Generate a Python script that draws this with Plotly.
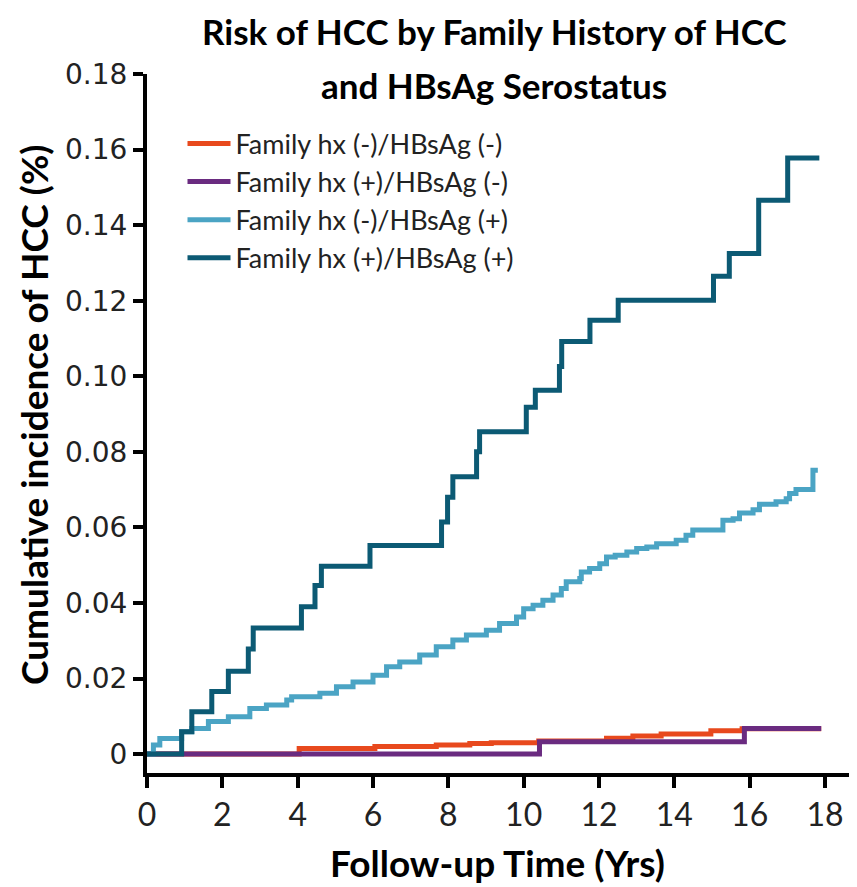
import plotly.graph_objects as go

# ---- data ----
series_names = [
    "Family hx (-)/HBsAg (-)",
    "Family hx (+)/HBsAg (-)",
    "Family hx (-)/HBsAg (+)",
    "Family hx (+)/HBsAg (+)",
]
series_colors = ["#E8491D", "#6A2B80", "#4BA4C4", "#0C5A74"]

neg_neg_t = [0, 4.04, 6.05, 7.68, 8.57, 9.14, 10.4, 12.2, 12.9, 13.65, 14.97, 15.8, 17.9]
neg_neg_y = [0, 0.0015, 0.0020, 0.0024, 0.0028, 0.0030, 0.0035, 0.0042, 0.0048, 0.0053, 0.0062, 0.0067, 0.0067]

pos_neg_t = [0, 10.42, 15.86, 17.9]
pos_neg_y = [0, 0.0033, 0.0068, 0.0068]

neg_pos_t = [0, 0.17, 0.34, 0.92, 1.19, 1.63, 2.16, 2.73, 3.17, 3.71, 3.84, 4.59, 5.03, 5.47,
             6.0, 6.36, 6.71, 7.24, 7.68, 8.12, 8.48, 9.01, 9.36, 9.81, 10.0, 10.25, 10.51,
             10.78, 11.0, 11.13, 11.49, 11.53, 11.75, 12.02, 12.2, 12.43, 12.74, 13.0, 13.27,
             13.53, 14.05, 14.31, 14.49, 15.29, 15.56, 15.73, 16.09, 16.26, 16.70, 16.97,
             17.06, 17.23, 17.68, 17.81]
neg_pos_y = [0, 0.0024, 0.0041, 0.0059, 0.0068, 0.0086, 0.0099, 0.0121, 0.0130, 0.0143, 0.0152,
             0.0161, 0.0178, 0.0191, 0.0209, 0.0231, 0.0244, 0.0262, 0.0284, 0.0302, 0.0315,
             0.0328, 0.0346, 0.0363, 0.0385, 0.0394, 0.0407, 0.0421, 0.0438, 0.0456, 0.0465,
             0.0482, 0.0491, 0.0504, 0.0522, 0.0526, 0.0535, 0.0544, 0.0548, 0.0557, 0.0566,
             0.0579, 0.0593, 0.0619, 0.0623, 0.0638, 0.0647, 0.0661, 0.0668, 0.0676, 0.0690,
             0.0700, 0.0751, 0.0751]

pos_pos_t = [0, 0.92, 1.19, 1.72, 2.16, 2.69, 2.82, 4.10, 4.46, 4.63, 5.92, 7.82, 7.98, 8.12,
             8.75, 8.83, 10.07, 10.31, 10.95, 11.01, 11.76, 12.51, 15.04, 15.46, 16.24, 17.01, 17.85]
pos_pos_y = [0, 0.0059, 0.0112, 0.0166, 0.0219, 0.0278, 0.0334, 0.0390, 0.0446, 0.0497, 0.0552,
             0.0614, 0.0680, 0.0734, 0.0800, 0.0853, 0.0918, 0.0963, 0.1026, 0.1092, 0.1148,
             0.1201, 0.1265, 0.1325, 0.1466, 0.1578, 0.1578]

x_ticks = [0, 2, 4, 6, 8, 10, 12, 14, 16, 18]
y_ticks = [0, 0.02, 0.04, 0.06, 0.08, 0.10, 0.12, 0.14, 0.16, 0.18]
y_tick_text = ["0", "0.02", "0.04", "0.06", "0.08", "0.10", "0.12", "0.14", "0.16", "0.18"]

title_line1 = "Risk of HCC by Family History of HCC"
title_line2 = "and HBsAg Serostatus"
x_title = "Follow-up Time (Yrs)"
y_title = "Cumulative incidence of HCC (%)"

FONT = "Lato"

# ---- figure ----
fig = go.Figure()
all_t = [neg_neg_t, pos_neg_t, neg_pos_t, pos_pos_t]
all_y = [neg_neg_y, pos_neg_y, neg_pos_y, pos_pos_y]
for name, col, t, y in zip(series_names, series_colors, all_t, all_y):
    fig.add_trace(go.Scatter(
        x=t, y=y, name=name, mode="lines",
        line=dict(color=col, width=5, shape="hv"),
    ))

# page has an 8px body margin, so figure is 8px smaller and margins shifted
fig.update_layout(
    width=849, height=879,
    margin=dict(l=139, r=0, t=66, b=114),
    paper_bgcolor="white", plot_bgcolor="white",
    showlegend=True,
    legend=dict(
        x=0.05, y=0.935, xanchor="left", yanchor="top",
        font=dict(family=FONT, size=27, color="#222"),
        bgcolor="rgba(0,0,0,0)", itemwidth=43,
        traceorder="normal",
    ),
    xaxis=dict(
        range=[0, 18.85], tickvals=x_ticks, showgrid=False, zeroline=False,
        showline=True, linecolor="black", linewidth=4,
        ticks="outside", ticklen=11, tickwidth=4, tickcolor="black",
        tickfont=dict(family=FONT, size=32, color="#222"),
    ),
    yaxis=dict(
        range=[-0.005, 0.18], tickvals=y_ticks, ticktext=y_tick_text,
        showgrid=False, zeroline=False,
        showline=True, linecolor="black", linewidth=4,
        ticks="outside", ticklen=10, tickwidth=4, tickcolor="black",
        tickfont=dict(family="DejaVu Sans", size=28, color="#222"),
    ),
    annotations=[
        dict(text=f"<b>{title_line1}</b>", xref="paper", yref="paper",
             x=(494 - 147) / 710, y=1 + (74 - 31) / 699, xanchor="center", yanchor="middle",
             showarrow=False, font=dict(family=FONT, size=35, color="black")),
        dict(text=f"<b>{title_line2}</b>", xref="paper", yref="paper",
             x=(494 - 147) / 710, y=1 - (85 - 74) / 699, xanchor="center", yanchor="middle",
             showarrow=False, font=dict(family=FONT, size=35, color="black")),
        dict(text=f"<b>{x_title}</b>", xref="paper", yref="paper",
             x=(497 - 147) / 710, y=(773 - 862) / 699, xanchor="center", yanchor="middle",
             showarrow=False, font=dict(family=FONT, size=37, color="black")),
        dict(text=f"<b>{y_title}</b>", xref="paper", yref="paper", textangle=-90,
             x=(33 - 147) / 710, y=(773 - 415) / 699, xanchor="center", yanchor="middle",
             showarrow=False, font=dict(family=FONT, size=37, color="black")),
    ],
)

fig.write_html("out.html")
